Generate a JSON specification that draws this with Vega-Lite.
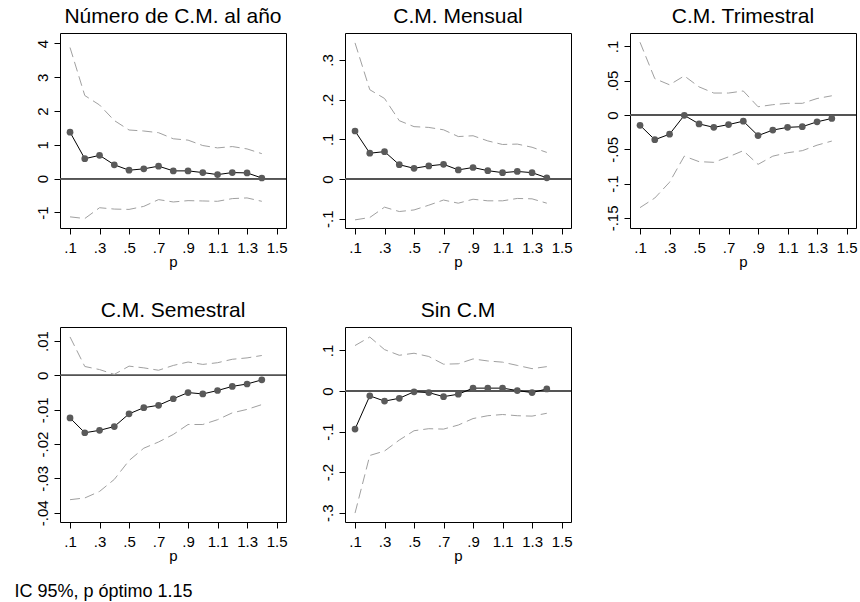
{
  "$schema": "https://vega.github.io/schema/vega-lite/v6.json",
  "background": "white",
  "padding": {"left": 14, "top": 5, "right": 5, "bottom": 5},
  "bounds": "flush",
  "columns": 3,
  "spacing": {"column": 59, "row": 99},
  "title": {"text": "IC 95%, p óptimo 1.15", "orient": "bottom", "anchor": "start", "font": "Liberation Sans", "fontSize": 18, "fontWeight": "normal", "color": "black", "offset": 19, "dx": -20},
  "datasets": {
    "d": [
      {"g": 1, "p": 0.1, "b": 1.376, "lo": -1.13, "hi": 3.88},
      {"g": 1, "p": 0.2, "b": 0.59, "lo": -1.18, "hi": 2.46},
      {"g": 1, "p": 0.3, "b": 0.69, "lo": -0.86, "hi": 2.18},
      {"g": 1, "p": 0.4, "b": 0.41, "lo": -0.9, "hi": 1.72},
      {"g": 1, "p": 0.5, "b": 0.25, "lo": -0.91, "hi": 1.44},
      {"g": 1, "p": 0.6, "b": 0.29, "lo": -0.82, "hi": 1.41},
      {"g": 1, "p": 0.7, "b": 0.37, "lo": -0.62, "hi": 1.36},
      {"g": 1, "p": 0.8, "b": 0.23, "lo": -0.69, "hi": 1.18},
      {"g": 1, "p": 0.9, "b": 0.23, "lo": -0.65, "hi": 1.14},
      {"g": 1, "p": 1.0, "b": 0.18, "lo": -0.66, "hi": 0.98},
      {"g": 1, "p": 1.1, "b": 0.12, "lo": -0.67, "hi": 0.91},
      {"g": 1, "p": 1.2, "b": 0.18, "lo": -0.59, "hi": 0.95},
      {"g": 1, "p": 1.3, "b": 0.17, "lo": -0.57, "hi": 0.88},
      {"g": 1, "p": 1.4, "b": 0.02, "lo": -0.67, "hi": 0.74},
      {"g": 2, "p": 0.1, "b": 0.121, "lo": -0.103, "hi": 0.343},
      {"g": 2, "p": 0.2, "b": 0.065, "lo": -0.097, "hi": 0.225},
      {"g": 2, "p": 0.3, "b": 0.069, "lo": -0.071, "hi": 0.203},
      {"g": 2, "p": 0.4, "b": 0.036, "lo": -0.082, "hi": 0.147},
      {"g": 2, "p": 0.5, "b": 0.027, "lo": -0.078, "hi": 0.132},
      {"g": 2, "p": 0.6, "b": 0.033, "lo": -0.066, "hi": 0.13},
      {"g": 2, "p": 0.7, "b": 0.037, "lo": -0.053, "hi": 0.124},
      {"g": 2, "p": 0.8, "b": 0.023, "lo": -0.061, "hi": 0.107},
      {"g": 2, "p": 0.9, "b": 0.029, "lo": -0.051, "hi": 0.109},
      {"g": 2, "p": 1.0, "b": 0.021, "lo": -0.055, "hi": 0.096},
      {"g": 2, "p": 1.1, "b": 0.016, "lo": -0.055, "hi": 0.087},
      {"g": 2, "p": 1.2, "b": 0.019, "lo": -0.049, "hi": 0.088},
      {"g": 2, "p": 1.3, "b": 0.016, "lo": -0.05, "hi": 0.08},
      {"g": 2, "p": 1.4, "b": 0.003, "lo": -0.061, "hi": 0.067},
      {"g": 3, "p": 0.1, "b": -0.015, "lo": -0.135, "hi": 0.106},
      {"g": 3, "p": 0.2, "b": -0.036, "lo": -0.121, "hi": 0.053},
      {"g": 3, "p": 0.3, "b": -0.028, "lo": -0.098, "hi": 0.044},
      {"g": 3, "p": 0.4, "b": -0.0005, "lo": -0.06, "hi": 0.057},
      {"g": 3, "p": 0.5, "b": -0.013, "lo": -0.068, "hi": 0.041},
      {"g": 3, "p": 0.6, "b": -0.018, "lo": -0.069, "hi": 0.032},
      {"g": 3, "p": 0.7, "b": -0.014, "lo": -0.061, "hi": 0.032},
      {"g": 3, "p": 0.8, "b": -0.009, "lo": -0.052, "hi": 0.035},
      {"g": 3, "p": 0.9, "b": -0.03, "lo": -0.072, "hi": 0.012},
      {"g": 3, "p": 1.0, "b": -0.022, "lo": -0.06, "hi": 0.015},
      {"g": 3, "p": 1.1, "b": -0.018, "lo": -0.055, "hi": 0.017},
      {"g": 3, "p": 1.2, "b": -0.017, "lo": -0.052, "hi": 0.017},
      {"g": 3, "p": 1.3, "b": -0.01, "lo": -0.044, "hi": 0.024},
      {"g": 3, "p": 1.4, "b": -0.005, "lo": -0.038, "hi": 0.028},
      {"g": 4, "p": 0.1, "b": -0.0124, "lo": -0.0362, "hi": 0.0112},
      {"g": 4, "p": 0.2, "b": -0.0167, "lo": -0.0357, "hi": 0.0026},
      {"g": 4, "p": 0.3, "b": -0.016, "lo": -0.0338, "hi": 0.0017},
      {"g": 4, "p": 0.4, "b": -0.0149, "lo": -0.0303, "hi": 0.0003},
      {"g": 4, "p": 0.5, "b": -0.0112, "lo": -0.0248, "hi": 0.0027},
      {"g": 4, "p": 0.6, "b": -0.0094, "lo": -0.0212, "hi": 0.0022},
      {"g": 4, "p": 0.7, "b": -0.0087, "lo": -0.0194, "hi": 0.0015},
      {"g": 4, "p": 0.8, "b": -0.0068, "lo": -0.0172, "hi": 0.0029},
      {"g": 4, "p": 0.9, "b": -0.005, "lo": -0.0143, "hi": 0.0039},
      {"g": 4, "p": 1.0, "b": -0.0054, "lo": -0.0143, "hi": 0.0032},
      {"g": 4, "p": 1.1, "b": -0.0044, "lo": -0.0129, "hi": 0.0037},
      {"g": 4, "p": 1.2, "b": -0.0032, "lo": -0.0109, "hi": 0.0047},
      {"g": 4, "p": 1.3, "b": -0.0025, "lo": -0.0099, "hi": 0.0051},
      {"g": 4, "p": 1.4, "b": -0.0013, "lo": -0.0085, "hi": 0.0058},
      {"g": 5, "p": 0.1, "b": -0.094, "lo": -0.301, "hi": 0.112},
      {"g": 5, "p": 0.2, "b": -0.012, "lo": -0.159, "hi": 0.133},
      {"g": 5, "p": 0.3, "b": -0.025, "lo": -0.148, "hi": 0.102},
      {"g": 5, "p": 0.4, "b": -0.018, "lo": -0.121, "hi": 0.088},
      {"g": 5, "p": 0.5, "b": -0.002, "lo": -0.098, "hi": 0.093},
      {"g": 5, "p": 0.6, "b": -0.004, "lo": -0.093, "hi": 0.085},
      {"g": 5, "p": 0.7, "b": -0.014, "lo": -0.094, "hi": 0.066},
      {"g": 5, "p": 0.8, "b": -0.008, "lo": -0.084, "hi": 0.067},
      {"g": 5, "p": 0.9, "b": 0.007, "lo": -0.068, "hi": 0.079},
      {"g": 5, "p": 1.0, "b": 0.007, "lo": -0.061, "hi": 0.074},
      {"g": 5, "p": 1.1, "b": 0.007, "lo": -0.058, "hi": 0.071},
      {"g": 5, "p": 1.2, "b": 0.001, "lo": -0.061, "hi": 0.063},
      {"g": 5, "p": 1.3, "b": -0.004, "lo": -0.062, "hi": 0.055},
      {"g": 5, "p": 1.4, "b": 0.005, "lo": -0.055, "hi": 0.06}
    ]
  },
  "concat": [
    {
      "title": "Número de C.M. al año",
      "width": 226, "height": 195,
      "data": {"name": "d"},
      "transform": [{"filter": "datum.g == 1"}],
      "layer": [
        {"mark": {"type": "rule", "color": "#555", "strokeWidth": 1}, "encoding": {"y": {"datum": 0, "type": "quantitative", "scale": {"domain": [-1.46, 4.31], "nice": false, "zero": false}, "axis": {"values": [-1, 0, 1, 2, 3, 4], "tickCount": 30, "title": null, "labelOverlap": false, "labelExpr": "replace(toString(datum.value), '0.', '.')"}}}},
        {"mark": {"type": "line", "color": "#a0a0a0", "strokeWidth": 1, "strokeDash": [10, 5]}, "encoding": {"x": {"field": "p", "type": "quantitative", "scale": {"domain": [0.032, 1.564], "nice": false, "zero": false}, "axis": {"values": [0.1, 0.3, 0.5, 0.7, 0.9, 1.1, 1.3, 1.5], "tickCount": 30, "title": "p", "labelOverlap": false, "labelFlush": false, "labelExpr": "replace(toString(datum.value), '0.', '.')"}}, "y": {"field": "hi", "type": "quantitative", "title": null}}},
        {"mark": {"type": "line", "color": "#a0a0a0", "strokeWidth": 1, "strokeDash": [10, 5]}, "encoding": {"x": {"field": "p", "type": "quantitative"}, "y": {"field": "lo", "type": "quantitative", "title": null}}},
        {"mark": {"type": "line", "color": "black", "strokeWidth": 1}, "encoding": {"x": {"field": "p", "type": "quantitative"}, "y": {"field": "b", "type": "quantitative", "title": null}}},
        {"mark": {"type": "point", "filled": true, "color": "#5a5a5a", "size": 45, "opacity": 1}, "encoding": {"x": {"field": "p", "type": "quantitative"}, "y": {"field": "b", "type": "quantitative", "title": null}}}
      ]
    },
    {
      "title": "C.M. Mensual",
      "width": 226, "height": 195,
      "data": {"name": "d"},
      "transform": [{"filter": "datum.g == 2"}],
      "layer": [
        {"mark": {"type": "rule", "color": "#555", "strokeWidth": 1}, "encoding": {"y": {"datum": 0, "type": "quantitative", "scale": {"domain": [-0.1235, 0.368], "nice": false, "zero": false}, "axis": {"values": [-0.1, 0, 0.1, 0.2, 0.3], "tickCount": 30, "title": null, "labelOverlap": false, "labelExpr": "replace(toString(datum.value), '0.', '.')"}}}},
        {"mark": {"type": "line", "color": "#a0a0a0", "strokeWidth": 1, "strokeDash": [10, 5]}, "encoding": {"x": {"field": "p", "type": "quantitative", "scale": {"domain": [0.032, 1.564], "nice": false, "zero": false}, "axis": {"values": [0.1, 0.3, 0.5, 0.7, 0.9, 1.1, 1.3, 1.5], "tickCount": 30, "title": "p", "labelOverlap": false, "labelFlush": false, "labelExpr": "replace(toString(datum.value), '0.', '.')"}}, "y": {"field": "hi", "type": "quantitative", "title": null}}},
        {"mark": {"type": "line", "color": "#a0a0a0", "strokeWidth": 1, "strokeDash": [10, 5]}, "encoding": {"x": {"field": "p", "type": "quantitative"}, "y": {"field": "lo", "type": "quantitative", "title": null}}},
        {"mark": {"type": "line", "color": "black", "strokeWidth": 1}, "encoding": {"x": {"field": "p", "type": "quantitative"}, "y": {"field": "b", "type": "quantitative", "title": null}}},
        {"mark": {"type": "point", "filled": true, "color": "#5a5a5a", "size": 45, "opacity": 1}, "encoding": {"x": {"field": "p", "type": "quantitative"}, "y": {"field": "b", "type": "quantitative", "title": null}}}
      ]
    },
    {
      "title": "C.M. Trimestral",
      "width": 226, "height": 195,
      "data": {"name": "d"},
      "transform": [{"filter": "datum.g == 3"}],
      "layer": [
        {"mark": {"type": "rule", "color": "#555", "strokeWidth": 1}, "encoding": {"y": {"datum": 0, "type": "quantitative", "scale": {"domain": [-0.1647, 0.1195], "nice": false, "zero": false}, "axis": {"values": [-0.15, -0.1, -0.05, 0, 0.05, 0.1], "tickCount": 30, "title": null, "labelOverlap": false, "labelExpr": "replace(toString(datum.value), '0.', '.')"}}}},
        {"mark": {"type": "line", "color": "#a0a0a0", "strokeWidth": 1, "strokeDash": [10, 5]}, "encoding": {"x": {"field": "p", "type": "quantitative", "scale": {"domain": [0.032, 1.564], "nice": false, "zero": false}, "axis": {"values": [0.1, 0.3, 0.5, 0.7, 0.9, 1.1, 1.3, 1.5], "tickCount": 30, "title": "p", "labelOverlap": false, "labelFlush": false, "labelExpr": "replace(toString(datum.value), '0.', '.')"}}, "y": {"field": "hi", "type": "quantitative", "title": null}}},
        {"mark": {"type": "line", "color": "#a0a0a0", "strokeWidth": 1, "strokeDash": [10, 5]}, "encoding": {"x": {"field": "p", "type": "quantitative"}, "y": {"field": "lo", "type": "quantitative", "title": null}}},
        {"mark": {"type": "line", "color": "black", "strokeWidth": 1}, "encoding": {"x": {"field": "p", "type": "quantitative"}, "y": {"field": "b", "type": "quantitative", "title": null}}},
        {"mark": {"type": "point", "filled": true, "color": "#5a5a5a", "size": 45, "opacity": 1}, "encoding": {"x": {"field": "p", "type": "quantitative"}, "y": {"field": "b", "type": "quantitative", "title": null}}}
      ]
    },
    {
      "title": "C.M. Semestral",
      "width": 226, "height": 195,
      "data": {"name": "d"},
      "transform": [{"filter": "datum.g == 4"}],
      "layer": [
        {"mark": {"type": "rule", "color": "#555", "strokeWidth": 1}, "encoding": {"y": {"datum": 0, "type": "quantitative", "scale": {"domain": [-0.0427, 0.0141], "nice": false, "zero": false}, "axis": {"values": [-0.04, -0.03, -0.02, -0.01, 0, 0.01], "tickCount": 30, "title": null, "labelOverlap": false, "labelExpr": "replace(toString(datum.value), '0.', '.')"}}}},
        {"mark": {"type": "line", "color": "#a0a0a0", "strokeWidth": 1, "strokeDash": [10, 5]}, "encoding": {"x": {"field": "p", "type": "quantitative", "scale": {"domain": [0.032, 1.564], "nice": false, "zero": false}, "axis": {"values": [0.1, 0.3, 0.5, 0.7, 0.9, 1.1, 1.3, 1.5], "tickCount": 30, "title": "p", "labelOverlap": false, "labelFlush": false, "labelExpr": "replace(toString(datum.value), '0.', '.')"}}, "y": {"field": "hi", "type": "quantitative", "title": null}}},
        {"mark": {"type": "line", "color": "#a0a0a0", "strokeWidth": 1, "strokeDash": [10, 5]}, "encoding": {"x": {"field": "p", "type": "quantitative"}, "y": {"field": "lo", "type": "quantitative", "title": null}}},
        {"mark": {"type": "line", "color": "black", "strokeWidth": 1}, "encoding": {"x": {"field": "p", "type": "quantitative"}, "y": {"field": "b", "type": "quantitative", "title": null}}},
        {"mark": {"type": "point", "filled": true, "color": "#5a5a5a", "size": 45, "opacity": 1}, "encoding": {"x": {"field": "p", "type": "quantitative"}, "y": {"field": "b", "type": "quantitative", "title": null}}}
      ]
    },
    {
      "title": "Sin C.M",
      "width": 226, "height": 195,
      "data": {"name": "d"},
      "transform": [{"filter": "datum.g == 5"}],
      "layer": [
        {"mark": {"type": "rule", "color": "#555", "strokeWidth": 1}, "encoding": {"y": {"datum": 0, "type": "quantitative", "scale": {"domain": [-0.323, 0.1577], "nice": false, "zero": false}, "axis": {"values": [-0.3, -0.2, -0.1, 0, 0.1], "tickCount": 30, "title": null, "labelOverlap": false, "labelExpr": "replace(toString(datum.value), '0.', '.')"}}}},
        {"mark": {"type": "line", "color": "#a0a0a0", "strokeWidth": 1, "strokeDash": [10, 5]}, "encoding": {"x": {"field": "p", "type": "quantitative", "scale": {"domain": [0.032, 1.564], "nice": false, "zero": false}, "axis": {"values": [0.1, 0.3, 0.5, 0.7, 0.9, 1.1, 1.3, 1.5], "tickCount": 30, "title": "p", "labelOverlap": false, "labelFlush": false, "labelExpr": "replace(toString(datum.value), '0.', '.')"}}, "y": {"field": "hi", "type": "quantitative", "title": null}}},
        {"mark": {"type": "line", "color": "#a0a0a0", "strokeWidth": 1, "strokeDash": [10, 5]}, "encoding": {"x": {"field": "p", "type": "quantitative"}, "y": {"field": "lo", "type": "quantitative", "title": null}}},
        {"mark": {"type": "line", "color": "black", "strokeWidth": 1}, "encoding": {"x": {"field": "p", "type": "quantitative"}, "y": {"field": "b", "type": "quantitative", "title": null}}},
        {"mark": {"type": "point", "filled": true, "color": "#5a5a5a", "size": 45, "opacity": 1}, "encoding": {"x": {"field": "p", "type": "quantitative"}, "y": {"field": "b", "type": "quantitative", "title": null}}}
      ]
    }
  ],
  "config": {
    "font": "Liberation Sans",
    "view": {"stroke": "black", "strokeWidth": 1},
    "title": {"font": "Liberation Sans", "fontSize": 21, "fontWeight": "normal", "color": "black", "baseline": "alphabetic", "offset": 6, "anchor": "middle"},
    "axis": {
      "grid": false,
      "domain": false,
      "ticks": true,
      "tickColor": "black",
      "tickSize": 6,
      "tickWidth": 1,
      "labelFont": "Liberation Sans",
      "labelFontSize": 15,
      "labelColor": "black",
      "labelPadding": 3,
      "labelOverlap": false,
      "titleFont": "Liberation Sans",
      "titleFontSize": 15,
      "titleFontWeight": "normal",
      "titleColor": "black",
      "titlePadding": 0
    },
    "axisY": {"labelAngle": 270, "labelAlign": "center", "labelBaseline": "bottom", "labelPadding": 4},
    "axisX": {"labelFlush": false, "labelOverlap": false, "labelPadding": 6, "titlePadding": -1}
  }
}
